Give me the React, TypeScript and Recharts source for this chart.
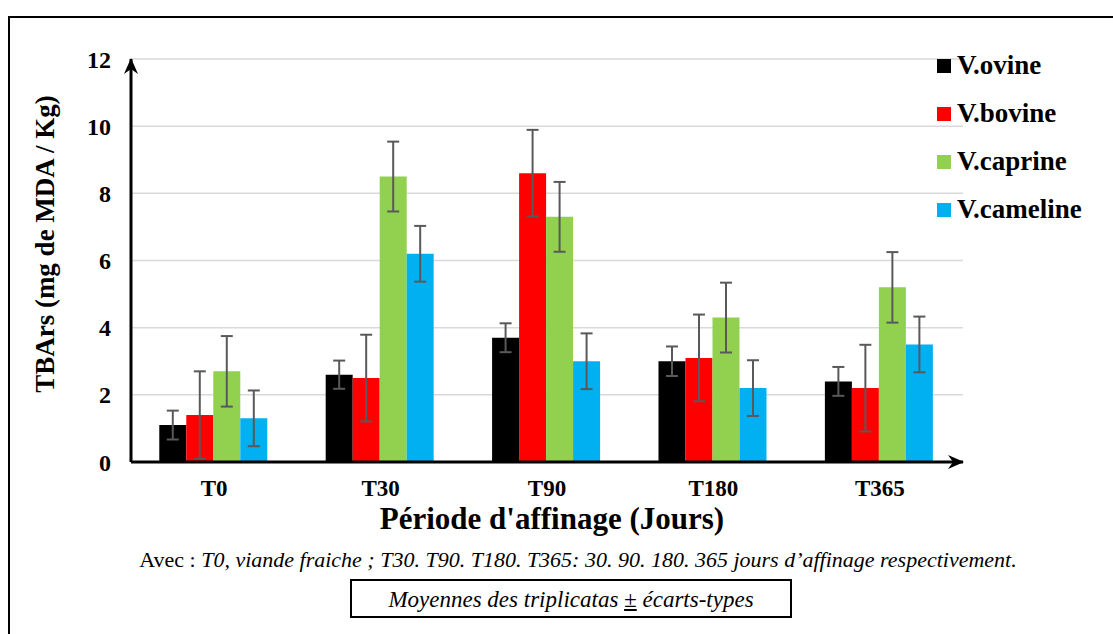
import { BarChart, Bar, XAxis, YAxis, CartesianGrid, ErrorBar } from 'recharts';

const periods = ['T0', 'T30', 'T90', 'T180', 'T365'];

// TBArs means (mg MDA / kg) per species
const ovine = [1.1, 2.6, 3.7, 3.0, 2.4];
const bovine = [1.4, 2.5, 8.6, 3.1, 2.2];
const caprine = [2.7, 8.5, 7.3, 4.3, 5.2];
const cameline = [1.3, 6.2, 3.0, 2.2, 3.5];

// standard deviations
const ovineSd = [0.43, 0.42, 0.43, 0.44, 0.43];
const bovineSd = [1.3, 1.29, 1.29, 1.29, 1.29];
const caprineSd = [1.05, 1.04, 1.04, 1.04, 1.05];
const camelineSd = [0.83, 0.83, 0.83, 0.83, 0.83];

const yTicks = [0, 2, 4, 6, 8, 10, 12];

const series = [
  { key: 'ovine', name: 'V.ovine', color: '#000000' },
  { key: 'bovine', name: 'V.bovine', color: '#FF0000' },
  { key: 'caprine', name: 'V.caprine', color: '#92D050' },
  { key: 'cameline', name: 'V.cameline', color: '#00B0F0' },
];

const data = periods.map((p, i) => ({
  period: p,
  ovine: ovine[i],
  ovineErr: ovineSd[i],
  bovine: bovine[i],
  bovineErr: bovineSd[i],
  caprine: caprine[i],
  caprineErr: caprineSd[i],
  cameline: cameline[i],
  camelineErr: camelineSd[i],
}));

const FONT = '"Liberation Serif", "Times New Roman", serif';

export default function App() {
  return (
    <div
      style={{
        position: 'absolute',
        left: 0,
        top: 0,
        width: 1113,
        height: 634,
        overflow: 'hidden',
        background: '#fff',
        fontFamily: FONT,
      }}
    >
      {/* arrow heads for the axes */}
      <svg width={0} height={0} style={{ position: 'absolute' }}>
        <defs>
          <marker
            id="axisArrow"
            viewBox="0 0 16 16"
            markerWidth={16}
            markerHeight={16}
            markerUnits="userSpaceOnUse"
            refX={15}
            refY={8}
            orient="auto-start-reverse"
          >
            <path d="M0,1 L16,8 L0,15 L5,8 Z" fill="#000" />
          </marker>
        </defs>
      </svg>

      {/* outer frame */}
      <div
        style={{
          position: 'absolute',
          left: 8,
          top: 16,
          width: 1200,
          height: 700,
          borderLeft: '2px solid #000',
          borderTop: '2px solid #000',
        }}
      />

      <div style={{ position: 'absolute', left: 0, top: 0 }}>
        <BarChart
          width={1113}
          height={634}
          data={data}
          margin={{ top: 59, right: 150, bottom: 132, left: 71 }}
          barCategoryGap="17%"
          barGap={0}
        >
          <CartesianGrid vertical={false} stroke="#d9d9d9" strokeWidth={1.5} />
          <XAxis
            dataKey="period"
            height={40}
            tickLine={false}
            tickSize={0}
            tickMargin={18}
            axisLine={{ stroke: '#000', strokeWidth: 3, markerEnd: 'url(#axisArrow)' }}
            tick={{ fill: '#000', fontSize: 23, fontWeight: 'bold', fontFamily: FONT }}
          />
          <YAxis
            width={60}
            domain={[0, 12]}
            ticks={yTicks}
            interval={0}
            tickLine={false}
            tickSize={0}
            tickMargin={20}
            axisLine={{ stroke: '#000', strokeWidth: 3, markerStart: 'url(#axisArrow)' }}
            tick={{ fill: '#000', fontSize: 24, fontWeight: 'bold', fontFamily: FONT }}
          />
          {series.map((s) => (
            <Bar key={s.key} dataKey={s.key} name={s.name} fill={s.color} isAnimationActive={false}>
              <ErrorBar
                dataKey={s.key + 'Err'}
                direction="y"
                width={6}
                stroke="#595959"
                strokeWidth={2}
                isAnimationActive={false}
              />
            </Bar>
          ))}
        </BarChart>
      </div>

      {/* legend */}
      <div style={{ position: 'absolute', left: 937, top: 41 }}>
        {series.map((s) => (
          <div
            key={s.key}
            style={{ display: 'flex', alignItems: 'center', height: 48, whiteSpace: 'nowrap' }}
          >
            <span style={{ width: 14, height: 14, background: s.color, marginRight: 6, marginTop: 2 }} />
            <span style={{ fontSize: 27, fontWeight: 'bold', color: '#000' }}>{s.name}</span>
          </div>
        ))}
      </div>

      {/* y axis title */}
      <div
        style={{
          position: 'absolute',
          left: 45,
          top: 244,
          transform: 'translate(-50%, -50%) rotate(-90deg)',
          fontSize: 27,
          fontWeight: 'bold',
          whiteSpace: 'nowrap',
          color: '#000',
        }}
      >
        TBArs (mg de MDA / Kg)
      </div>

      {/* x axis title */}
      <div
        style={{
          position: 'absolute',
          left: 552,
          top: 519,
          transform: 'translate(-50%, -50%)',
          fontSize: 31,
          lineHeight: '32px',
          fontWeight: 'bold',
          whiteSpace: 'nowrap',
          color: '#000',
        }}
      >
        Période d'affinage (Jours)
      </div>

      {/* note */}
      <div
        style={{
          position: 'absolute',
          left: 578,
          top: 560,
          transform: 'translate(-50%, -50%)',
          fontSize: 22,
          whiteSpace: 'nowrap',
          color: '#000',
        }}
      >
        Avec : <i>T0, viande fraiche ; T30. T90. T180. T365: 30. 90. 180. 365 jours d’affinage respectivement.</i>
      </div>

      <div
        style={{
          position: 'absolute',
          left: 350,
          top: 579,
          width: 442,
          height: 39,
          boxSizing: 'border-box',
          border: '2px solid #000',
          display: 'flex',
          alignItems: 'flex-end',
          justifyContent: 'center',
          paddingBottom: 3,
          fontSize: 23,
          fontStyle: 'italic',
          whiteSpace: 'pre',
          color: '#000',
        }}
      >
        <span>
          Moyennes des triplicatas <u>±</u> écarts-types
        </span>
      </div>
    </div>
  );
}
